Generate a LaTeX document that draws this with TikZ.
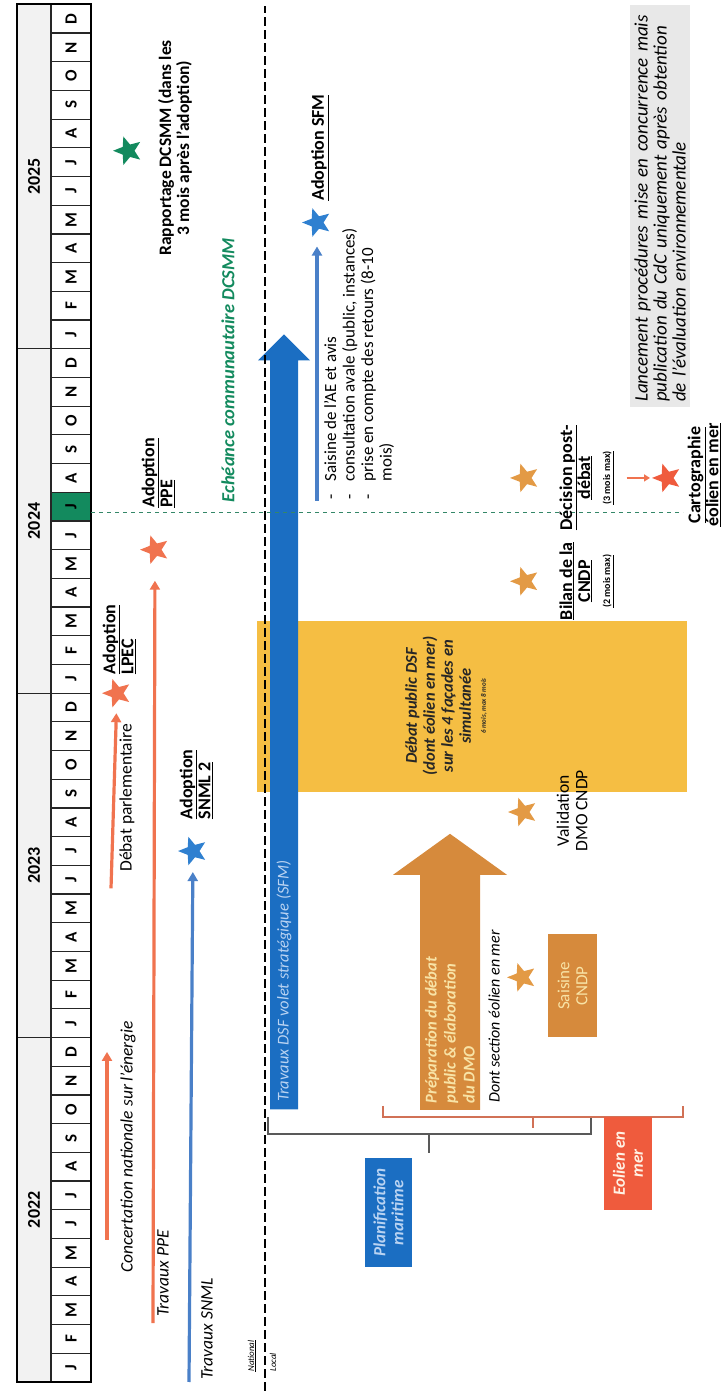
\documentclass[tikz,border=0pt]{standalone}
\usepackage{fontspec}
\setmainfont{Carlito}
\usetikzlibrary{shapes.geometric, arrows.meta, positioning}

\definecolor{dsfblue}{HTML}{1B6EC2}
\definecolor{lineblue}{HTML}{4A80C8}
\definecolor{starblue}{HTML}{2F80D0}
\definecolor{energyred}{HTML}{F0734F}
\definecolor{cartored}{HTML}{EF5B3D}
\definecolor{dmoochre}{HTML}{D68A3C}
\definecolor{starochre}{HTML}{E39A45}
\definecolor{debatyellow}{HTML}{F5BE43}
\definecolor{dcsmmgreen}{HTML}{138A5E}
\definecolor{notegray}{HTML}{E8E8E8}
\definecolor{paleblue}{HTML}{B9D3F2}
\definecolor{paleyellow}{HTML}{F8E3A6}

\tikzset{
    cell/.style={draw=black!85, line width=1.2pt},
    monthlbl/.style={font=\fontsize{17}{17}\selectfont\bfseries},
    yearlbl/.style={font=\fontsize{18}{18}\selectfont\bfseries},
    jalon/.style={star, star points=5, star point ratio=2.3, minimum size=30pt, inner sep=0pt},
    worklbl/.style={font=\fontsize{17.5}{18}\selectfont\itshape, anchor=west, inner sep=0pt},
    plainlbl/.style={font=\fontsize{17.5}{18.5}\selectfont, inner sep=0pt},
    adoptlbl/.style={font=\fontsize{18}{18}\selectfont\bfseries, align=left, anchor=west, inner sep=0pt},
    steplbl/.style={font=\fontsize{18}{18}\selectfont\bfseries, align=center, inner sep=0pt},
    flow/.style={line width=3.2pt, -{Triangle[length=9pt,width=10pt]}},
    trackbox/.style={font=\fontsize{17}{18}\selectfont\bfseries\itshape, align=center, inner sep=0pt},
    sepline/.style={dash pattern=on 9pt off 4pt, line width=1.3pt}
}

\begin{document}
\begin{tikzpicture}
\useasboundingbox (0,0) rectangle (724pt,1395pt);
\begin{scope}[shift={(724pt,13pt)}, rotate=90, x=28.7pt, y=1pt, transform shape]

    % Calendar header
    \fill[gray!10] (0,673) rectangle (48,707);
    \fill[dcsmmgreen] (30,633) rectangle (31,673);
    \foreach \yr/\lab in {0/2022,1/2023,2/2024,3/2025}{
        \draw[cell] ({12*\yr},673) rectangle ({12*\yr+12},707);
        \node[yearlbl] (y\lab) at ({12*\yr+6},690) {\lab};
        \foreach \mo [count=\i from 0] in {J,F,M,A,M,J,J,A,S,O,N,D}{
            \draw[cell] ({12*\yr+\i},633) rectangle ({12*\yr+\i+1},673);
            \node[monthlbl] (m\lab-\i) at ({12*\yr+\i+0.5},653) {\mo};
        }
    }
    \draw[line width=1.8pt] (0,633) rectangle (48,707);

    % Public debate period
    \fill[debatyellow] (20.56,37) rectangle (26.5,467);
    \node[font=\fontsize{16.5}{18}\selectfont\bfseries\itshape, align=center, text=black!85] (debat) at (23.55,278)
        {D\'ebat public DSF\\(dont \'eolien en mer)\\sur les 4 fa\c{c}ades en\\simultan\'ee\\[-3pt]{\fontsize{7}{8}\selectfont 6 mois, max 8 mois}};

    % Strategic DSF work
    \fill[dsfblue] (9.5,426) -- (35.6,426) -- (35.6,414) -- (36.5,440) -- (35.6,466) -- (35.6,454) -- (9.5,454) -- cycle;
    \node[worklbl, font=\fontsize{16.5}{18}\selectfont\itshape, text=paleblue] (dsf) at (9.75,440) {Travaux DSF volet strat\'egique (SFM)};

    % DMO preparation
    \fill[dmoochre] (9.48,244) -- (17.67,244) -- (17.67,217) -- (19.1,274) -- (17.67,331) -- (17.67,304) -- (9.48,304) -- cycle;
    \node[trackbox, anchor=west, align=left, font=\fontsize{16.5}{19}\selectfont\bfseries\itshape, text=paleyellow] (dmo) at (9.7,274)
        {Pr\'eparation du d\'ebat\\public \& \'elaboration\\du DMO};
    \node[worklbl, font=\fontsize{16}{18}\selectfont\itshape] (section) at (9.72,230) {Dont section \'eolien en mer};

    % National / local line and DCSMM deadline
    \coordinate (sep-start) at (-0.3,459);
    \coordinate (sep-end) at (47.95,459);
    \draw[sepline] (sep-start) -- (sep-end);
    \node[worklbl, font=\fontsize{9}{9}\selectfont\itshape] (national) at (0.35,472) {\underline{National}};
    \node[worklbl, font=\fontsize{9}{9}\selectfont\itshape] (local) at (0.35,451) {Local};
    \coordinate (dl-top) at (30.3,633);
    \coordinate (dl-bot) at (30.3,41);
    \draw[dcsmmgreen!70!gray, dash pattern=on 4pt off 4pt, line width=1.3pt] (dl-top) -- (dl-bot);
    \node[worklbl, font=\fontsize{18.5}{18}\selectfont\bfseries\itshape, text=dcsmmgreen] (echeance) at (30.65,496) {Ech\'eance communautaire DCSMM};

    % National milestones
    \coordinate (concert-start) at (4.95,617);
    \coordinate (concert-end) at (11.5,617);
    \draw[flow, energyred] (concert-start) -- (concert-end);
    \node[worklbl] (concert) at (3.8,596) {Concertation nationale sur l'\'energie};

    \node[jalon, fill=energyred] (lpec) at (24.0,607) {};
    \coordinate (parl-start) at (17.2,613);
    \draw[flow, energyred, shorten >=20pt] (parl-start) -- (lpec.center);
    \node[plainlbl] (parl) at (20.35,597) {D\'ebat parlementaire};
    \node[adoptlbl] (lpec-lbl) at (24.65,605) {\underline{Adoption}\\\underline{LPEC}};

    \node[jalon, fill=energyred] (ppe) at (29.0,569) {};
    \coordinate (ppe-start) at (2.05,571);
    \draw[flow, energyred, shorten >=31pt] (ppe-start) -- (ppe.center);
    \node[worklbl] (ppe-work) at (2.26,561) {Travaux PPE};
    \node[adoptlbl] (ppe-lbl) at (30.45,566) {\underline{Adoption}\\\underline{PPE}};

    \node[jalon, fill=starblue] (snml) at (18.5,531) {};
    \coordinate (snml-start) at (0,535);
    \draw[flow, lineblue, shorten >=21pt] (snml-start) -- (snml.center);
    \node[worklbl] (snml-work) at (0.07,517) {Travaux SNML};
    \node[adoptlbl] (snml-lbl) at (19.6,528) {\underline{Adoption}\\\underline{SNML 2}};

    \node[jalon, fill=starblue] (sfm) at (40.4,407) {};
    \coordinate (sfm-start) at (30.7,407);
    \draw[flow, lineblue, shorten >=24pt] (sfm-start) -- (sfm.center);
    \node[adoptlbl] (sfm-lbl) at (41.15,404) {\underline{Adoption SFM}};
    \node[plainlbl, anchor=west, align=left, font=\fontsize{17}{18.5}\selectfont] (sfm-steps) at (30.75,365)
        {\makebox[18pt][l]{-}Saisine de l'AE et avis\\
         \makebox[18pt][l]{-}consultation avale (public, instances)\\
         \makebox[18pt][l]{-}prise en compte des retours (8-10\\
         \hspace*{18pt}mois)};

    \node[jalon, fill=dcsmmgreen] (dcsmm) at (42.9,596) {};
    \node[steplbl, font=\fontsize{17.5}{18}\selectfont\bfseries] (dcsmm-lbl) at (43.0,549)
        {Rapportage DCSMM (dans les\\3 mois apr\`es l'adoption)};

    % Local steps
    \node[jalon, fill=starochre] (saisine-star) at (14.1,202) {};
    \node[trackbox, fill=dmoochre, text=paleyellow, font=\fontsize{17}{18}\selectfont, minimum width=103pt, minimum height=49pt] (saisine) at (13.8,151.5) {Saisine\\CNDP};
    \node[jalon, fill=starochre] (valid) at (19.86,201) {};
    \node[plainlbl, align=center] (valid-lbl) at (19.9,152) {Validation\\DMO CNDP};
    \node[jalon, fill=starochre] (bilan) at (27.9,199) {};
    \node[steplbl] (bilan-lbl) at (27.9,137.5)
        {\underline{Bilan de la}\\\underline{CNDP}\\[2pt]{\fontsize{10}{10}\selectfont\underline{(2 mois max)}}};
    \node[jalon, fill=starochre] (decision) at (31.5,199) {};
    \node[steplbl] (decision-lbl) at (31.5,137.5)
        {\underline{D\'ecision post-}\\\underline{d\'ebat}\\[2pt]{\fontsize{10}{10}\selectfont\underline{(3 mois max)}}};
    \node[jalon, fill=cartored] (carto) at (31.5,57) {};
    \draw[energyred, line width=2pt, -{Triangle[length=6pt,width=7pt]}, shorten <=40pt, shorten >=17pt] (decision-lbl.center) -- (carto.center);
    \node[steplbl] (carto-lbl) at (31.6,20) {\underline{Cartographie}\\\underline{\'eolien en mer}};

    % Tender note
    \node[fill=notegray, anchor=west, align=left, text width=392pt, inner xsep=5pt, minimum height=60pt,
          font=\fontsize{19}{19}\selectfont\itshape] (note) at (33.97,64)
        {Lancement proc\'edures mise en concurrence mais\\publication du CdC uniquement apr\`es obtention\\de l'\'evaluation environnementale};

    % Track brackets
    \draw[gray!70!black, line width=1.3pt] (9.23,456) -- (8.64,456) -- (8.64,133) -- (9.23,133);
    \draw[gray!70!black, line width=1.3pt] (8.64,295) -- (7.98,295);
    \draw[energyred!85!black!90, line width=1.3pt] (9.62,341) -- (9.23,341) -- (9.23,41) -- (9.62,41);
    \draw[energyred!85!black!90, line width=1.3pt] (9.23,191) -- (8.85,191);
    \node[trackbox, fill=dsfblue, text=paleblue, minimum width=109pt, minimum height=47pt] (planif) at (5.9,335.5) {Planification\\maritime};
    \node[trackbox, fill=cartored, text=white!90!orange, minimum width=93pt, minimum height=48pt] (eolien) at (7.615,96) {Eolien en\\mer};

\end{scope}
\end{tikzpicture}
\end{document}
